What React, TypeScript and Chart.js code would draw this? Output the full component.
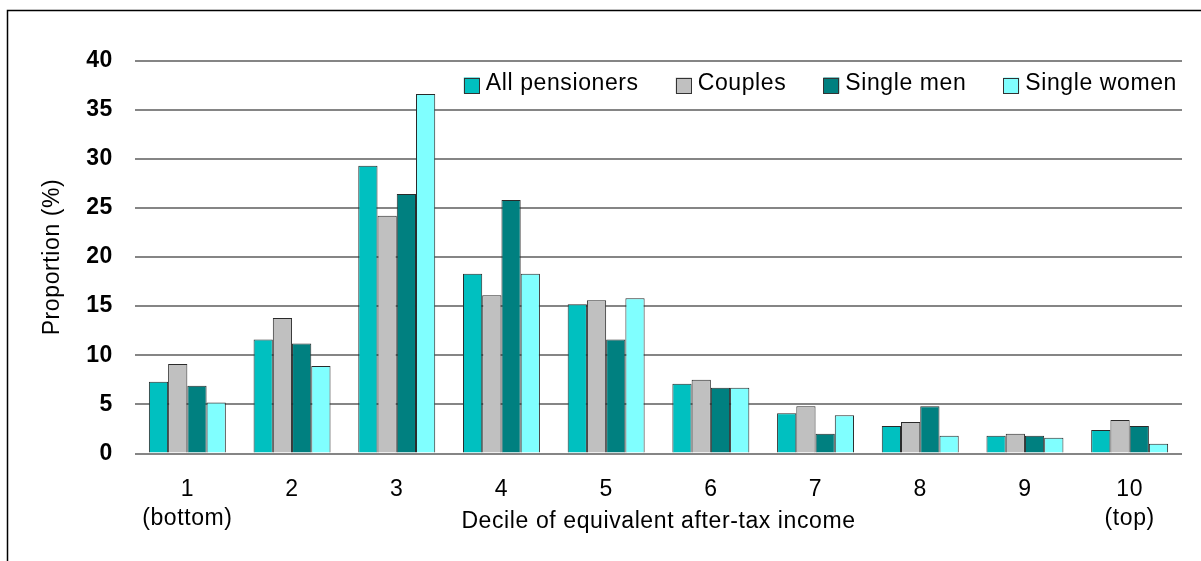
import { useEffect, useRef } from "react";
import { Chart, registerables } from "chart.js";

Chart.register(...registerables);

// Income deciles (first and last carry a second label line)
const deciles: (string | string[])[] = [
  ["1", "(bottom)"],
  "2",
  "3",
  "4",
  "5",
  "6",
  "7",
  "8",
  "9",
  ["10", "(top)"],
];

// Share of each group in each decile, %
const allPensioners = [7.3, 11.6, 29.3, 18.3, 15.2, 7.1, 4.1, 2.8, 1.8, 2.4];
const couples = [9.1, 13.8, 24.2, 16.1, 15.6, 7.5, 4.8, 3.2, 2.0, 3.4];
const singleMen = [6.9, 11.2, 26.4, 25.8, 11.6, 6.7, 2.0, 4.8, 1.8, 2.8];
const singleWomen = [5.2, 8.9, 36.6, 18.3, 15.8, 6.7, 3.9, 1.8, 1.6, 1.0];

const seriesNames = ["All pensioners", "Couples", "Single men", "Single women"];
const seriesColors = ["#00C0C0", "#C0C0C0", "#008080", "#80FFFF"];

const yMin = 0;
const yMax = 40;
const yStep = 5;

const xTitle = "Decile of equivalent after-tax income";
const yTitle = "Proportion (%)";

const FONT = "'Liberation Sans', Arial, Helvetica, sans-serif";
const TEXT_SIZE = 23;

// Slightly wider letter spacing for all canvas text
const spacingPlugin = {
  id: "letterSpacing",
  beforeUpdate(chart: any) {
    chart.ctx.letterSpacing = "0.6px";
  },
  beforeDraw(chart: any) {
    chart.ctx.letterSpacing = "0.6px";
  },
};

// Outer frame along the top and left edges
const framePlugin = {
  id: "frame",
  afterDraw(chart: any) {
    const ctx = chart.ctx;
    ctx.save();
    ctx.strokeStyle = "#000";
    ctx.lineWidth = 1.5;
    ctx.beginPath();
    ctx.moveTo(7.5, chart.height);
    ctx.lineTo(7.5, 10.5);
    ctx.lineTo(chart.width, 10.5);
    ctx.stroke();
    ctx.restore();
  },
};

// Single-row legend inside the plot, right aligned
const legendPlugin = {
  id: "insideLegend",
  afterDraw(chart: any) {
    const ctx = chart.ctx;
    const area = chart.chartArea;
    const box = 16;
    const gap = 6;
    const spacing = 37;
    ctx.save();
    ctx.font = `${TEXT_SIZE}px ${FONT}`;
    ctx.textBaseline = "middle";
    ctx.textAlign = "left";
    const items = chart.data.datasets.map((ds: any) => ({
      label: ds.label,
      color: ds.backgroundColor,
      w: ctx.measureText(ds.label).width,
    }));
    const total =
      items.reduce((s: number, it: any) => s + box + gap + it.w, 0) +
      spacing * (items.length - 1);
    let x = area.right - 5 - total;
    const cy = area.top + 25;
    for (const it of items) {
      ctx.fillStyle = it.color;
      ctx.fillRect(x, cy - box / 2, box, box);
      ctx.strokeStyle = "#333";
      ctx.lineWidth = 1;
      ctx.strokeRect(Math.round(x) + 0.5, Math.round(cy - box / 2) + 0.5, box - 1, box - 1);
      ctx.fillStyle = "#000";
      ctx.fillText(it.label, x + box + gap, cy - 1.5);
      x += box + gap + it.w + spacing;
    }
    ctx.restore();
  },
};

export default function App() {
  const canvasRef = useRef<HTMLCanvasElement | null>(null);

  useEffect(() => {
    const canvas = canvasRef.current;
    if (!canvas) return;
    const series = [allPensioners, couples, singleMen, singleWomen];
    const chart = new Chart(canvas, {
      type: "bar",
      data: {
        labels: deciles,
        datasets: series.map((values, i) => ({
          label: seriesNames[i],
          data: values,
          backgroundColor: seriesColors[i],
          borderColor: "#2a2a2a",
          borderWidth: 1,
          borderSkipped: "bottom",
          categoryPercentage: 0.735,
          barPercentage: 1.0,
        })),
      },
      options: {
        animation: false,
        responsive: false,
        devicePixelRatio: 1,
        layout: { padding: { left: 0, right: 19, top: 60.5, bottom: 7.5 } },
        plugins: {
          legend: { display: false },
          tooltip: { enabled: false },
          title: { display: false },
        },
        scales: {
          x: {
            grid: { display: false, drawTicks: false },
            border: { display: false },
            ticks: {
              color: "#000",
              padding: 22,
              maxRotation: 0,
              autoSkip: false,
              font: { family: FONT, size: TEXT_SIZE, lineHeight: 29 / TEXT_SIZE },
            },
            title: {
              display: true,
              text: xTitle,
              color: "#000",
              font: { family: FONT, size: TEXT_SIZE, lineHeight: 1.2 },
              padding: { top: 0, bottom: 18.2 },
            },
            afterFit(scale: any) {
              scale.height = 100;
            },
          },
          y: {
            min: yMin,
            max: yMax,
            grid: {
              color: "#858585",
              lineWidth: 2,
              drawTicks: false,
            },
            border: { display: false },
            ticks: {
              stepSize: yStep,
              color: "#000",
              padding: 22,
              font: { family: FONT, size: TEXT_SIZE, weight: "bold" },
            },
            title: {
              display: true,
              text: yTitle,
              color: "#000",
              font: { family: FONT, size: TEXT_SIZE, lineHeight: 1.2 },
              padding: { top: 39.2, bottom: 0 },
            },
            afterFit(scale: any) {
              scale.width = 135;
            },
          },
        },
      },
      plugins: [spacingPlugin, framePlugin, legendPlugin],
    } as any);
    return () => chart.destroy();
  }, []);

  return (
    <div
      style={{
        position: "absolute",
        left: 0,
        top: 0,
        width: 1201,
        height: 561,
        background: "#fff",
      }}
    >
      <canvas ref={canvasRef} width={1201} height={561} />
    </div>
  );
}
